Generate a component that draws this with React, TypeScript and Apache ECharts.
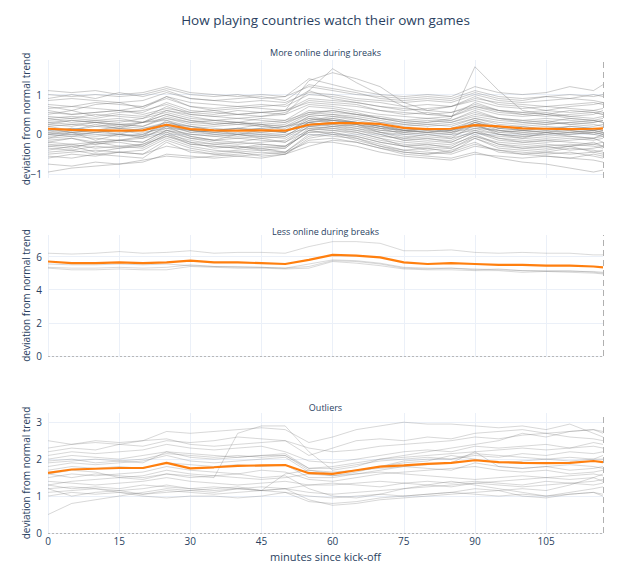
import React, { useEffect, useRef } from "react";
import * as echarts from "echarts";

const MINUTES = [0, 5, 10, 15, 20, 25, 30, 35, 40, 45, 50, 55, 60, 65, 70, 75, 80, 85, 90, 95, 100, 105, 110, 115, 117];
const X_TICKS = [0, 15, 30, 45, 60, 75, 90, 105];

const TITLE = "How playing countries watch their own games";
const PANEL_TITLES = ["More online during breaks", "Less online during breaks", "Outliers"];
const Y_NAME = "deviation from normal trend";
const X_NAME = "minutes since kick-off";

const TOP_TICKS = [-1, 0, 1];
const MID_TICKS = [0, 2, 4, 6];
const BOT_TICKS = [0, 1, 2, 3];

const TOP_LINES = [
  [-0.75, -0.8, -0.7, -0.75, -0.65, -0.55, -0.6, -0.55, -0.5, -0.45, -0.5, -0.3, -0.15, -0.2, -0.35, -0.5, -0.55, -0.6, -0.45, -0.6, -0.7, -0.75, -0.85, -0.95, -0.9],
  [-0.55, -0.6, -0.5, -0.55, -0.6, -0.2, -0.45, -0.5, -0.55, -0.6, -0.5, -0.1, 0.0, -0.15, -0.3, -0.45, -0.5, -0.4, -0.2, -0.45, -0.5, -0.55, -0.6, -0.5, -0.55],
  [-0.45, -0.4, -0.5, -0.45, -0.4, -0.1, -0.3, -0.4, -0.45, -0.4, -0.45, -0.05, 0.05, -0.1, -0.25, -0.4, -0.35, -0.45, -0.1, -0.35, -0.4, -0.45, -0.35, -0.4, -0.45],
  [-0.35, -0.4, -0.3, -0.35, -0.3, 0.0, -0.25, -0.3, -0.35, -0.3, -0.35, 0.1, 0.15, 0.05, -0.1, -0.3, -0.35, -0.3, 0.0, -0.25, -0.35, -0.3, -0.4, -0.35, -0.3],
  [-0.3, -0.25, -0.35, -0.3, -0.25, -0.05, -0.2, -0.25, -0.3, -0.35, -0.3, 0.05, 0.1, 0.0, -0.15, -0.25, -0.3, -0.25, -0.05, -0.2, -0.25, -0.3, -0.25, -0.3, -0.35],
  [-0.2, -0.25, -0.2, -0.15, -0.2, 0.1, -0.1, -0.2, -0.25, -0.2, -0.15, 0.2, 0.25, 0.15, 0.0, -0.15, -0.2, -0.15, 0.1, -0.1, -0.2, -0.15, -0.2, -0.25, -0.2],
  [-0.15, -0.1, -0.2, -0.15, -0.1, 0.05, -0.1, -0.15, -0.1, -0.15, -0.2, 0.1, 0.2, 0.1, -0.05, -0.1, -0.15, -0.1, 0.05, -0.05, -0.1, -0.15, -0.1, -0.15, -0.1],
  [-0.1, -0.05, -0.1, -0.15, -0.05, 0.15, 0.0, -0.05, -0.1, -0.05, -0.1, 0.25, 0.3, 0.2, 0.05, -0.05, -0.1, -0.05, 0.15, 0.0, -0.05, -0.1, -0.05, -0.1, -0.05],
  [-0.05, 0.0, -0.05, 0.0, -0.05, 0.1, 0.0, -0.05, 0.0, -0.05, 0.0, 0.15, 0.2, 0.15, 0.05, 0.0, -0.05, 0.0, 0.1, 0.0, -0.05, 0.0, 0.05, 0.0, -0.05],
  [0.0, 0.05, 0.0, -0.05, 0.0, 0.2, 0.05, 0.0, 0.05, 0.0, -0.05, 0.3, 0.35, 0.25, 0.1, 0.05, 0.0, 0.05, 0.2, 0.05, 0.0, 0.05, 0.0, 0.05, 0.0],
  [0.05, 0.0, 0.05, 0.1, 0.05, 0.15, 0.1, 0.05, 0.0, 0.05, 0.1, 0.2, 0.25, 0.2, 0.1, 0.05, 0.1, 0.05, 0.15, 0.1, 0.05, 0.0, 0.05, 0.1, 0.05],
  [0.1, 0.15, 0.1, 0.05, 0.1, 0.3, 0.15, 0.1, 0.15, 0.1, 0.05, 0.35, 0.4, 0.3, 0.2, 0.1, 0.15, 0.1, 0.3, 0.15, 0.1, 0.15, 0.1, 0.05, 0.1],
  [0.15, 0.1, 0.2, 0.15, 0.1, 0.25, 0.2, 0.15, 0.1, 0.15, 0.2, 0.3, 0.35, 0.3, 0.2, 0.15, 0.1, 0.15, 0.25, 0.2, 0.15, 0.2, 0.15, 0.1, 0.15],
  [0.2, 0.25, 0.2, 0.25, 0.2, 0.4, 0.25, 0.2, 0.25, 0.2, 0.15, 0.45, 0.5, 0.4, 0.3, 0.2, 0.25, 0.2, 0.4, 0.25, 0.2, 0.25, 0.3, 0.25, 0.2],
  [0.3, 0.25, 0.3, 0.35, 0.3, 0.5, 0.35, 0.3, 0.25, 0.3, 0.35, 0.55, 0.6, 0.5, 0.4, 0.3, 0.25, 0.3, 0.45, 0.35, 0.3, 0.25, 0.3, 0.35, 0.3],
  [0.35, 0.4, 0.35, 0.3, 0.4, 0.55, 0.4, 0.35, 0.4, 0.35, 0.3, 0.6, 0.55, 0.5, 0.45, 0.35, 0.4, 0.35, 0.55, 0.4, 0.35, 0.4, 0.35, 0.3, 0.35],
  [0.45, 0.4, 0.5, 0.45, 0.4, 0.7, 0.5, 0.45, 0.4, 0.45, 0.5, 0.75, 0.7, 0.6, 0.5, 0.45, 0.4, 0.45, 0.65, 0.5, 0.45, 0.5, 0.45, 0.4, 0.45],
  [0.55, 0.5, 0.55, 0.6, 0.55, 0.8, 0.6, 0.55, 0.5, 0.55, 0.6, 0.8, 0.75, 0.7, 0.6, 0.55, 0.5, 0.55, 0.75, 0.6, 0.55, 0.6, 0.55, 0.6, 0.55],
  [0.65, 0.7, 0.65, 0.6, 0.7, 0.9, 0.7, 0.65, 0.7, 0.65, 0.6, 0.9, 0.85, 0.8, 0.7, 0.6, 0.65, 0.7, 0.85, 0.7, 0.65, 0.7, 0.65, 0.6, 0.65],
  [0.75, 0.7, 0.8, 0.75, 0.7, 0.95, 0.8, 0.75, 0.7, 0.75, 0.7, 1.0, 0.95, 0.85, 0.8, 0.7, 0.75, 0.7, 0.9, 0.8, 0.75, 0.7, 0.75, 0.8, 0.75],
  [0.85, 0.9, 0.85, 0.8, 0.85, 1.05, 0.9, 0.85, 0.8, 0.85, 0.8, 1.05, 1.0, 0.9, 0.85, 0.8, 0.85, 0.8, 1.0, 0.85, 0.8, 0.85, 0.9, 0.85, 0.8],
  [1.0, 0.95, 1.0, 0.95, 1.0, 1.15, 1.0, 0.95, 1.0, 0.9, 0.95, 1.2, 1.1, 1.0, 0.95, 0.9, 0.95, 0.9, 1.1, 0.95, 0.9, 0.95, 1.0, 0.95, 1.0],
  [0.6, 0.5, 0.55, 0.6, 0.5, 0.65, 0.55, 0.5, 0.6, 0.55, 0.6, 1.35, 1.55, 1.4, 1.2, 0.8, 0.6, 0.55, 0.7, 0.6, 0.55, 0.5, 0.6, 0.55, 0.5],
  [0.3, 0.35, 0.3, 0.25, 0.3, 0.4, 0.3, 0.35, 0.3, 0.25, 0.3, 0.5, 0.6, 0.5, 0.4, 0.35, 0.3, 0.4, 1.7, 1.1, 0.6, 0.5, 0.4, 0.35, 0.3],
  [1.1, 1.05, 1.1, 1.0, 1.05, 1.2, 1.05, 1.0, 0.95, 1.0, 0.95, 1.4, 1.25, 1.1, 1.0, 0.95, 1.0, 0.95, 1.2, 1.05, 1.0, 1.05, 1.2, 1.1, 1.25],
  [-0.5, -0.45, -0.4, -0.45, -0.5, -0.15, -0.35, -0.45, -0.4, -0.35, -0.45, 0.0, -0.05, -0.1, -0.3, -0.4, -0.45, -0.5, -0.3, -0.4, -0.45, -0.5, -0.45, -0.55, -0.6],
  [0.0, -0.05, 0.05, 0.0, -0.05, 0.35, 0.1, 0.0, -0.05, 0.0, 0.05, 0.4, 0.35, 0.3, 0.15, 0.0, 0.05, 0.0, 0.3, 0.1, 0.0, -0.05, 0.0, 0.05, 0.0],
  [0.25, 0.2, 0.3, 0.25, 0.2, 0.45, 0.3, 0.25, 0.3, 0.25, 0.2, 0.5, 0.45, 0.4, 0.3, 0.25, 0.2, 0.25, 0.4, 0.3, 0.25, 0.3, 0.25, 0.2, 0.25],
  [-0.25, -0.3, -0.25, -0.2, -0.3, 0.0, -0.15, -0.25, -0.2, -0.25, -0.3, 0.15, 0.1, 0.05, -0.1, -0.2, -0.25, -0.2, 0.05, -0.15, -0.2, -0.25, -0.3, -0.25, -0.3],
  [0.1, 0.05, 0.1, 0.15, 0.1, 0.2, 0.1, 0.05, 0.1, 0.05, 0.1, 0.25, 0.3, 0.25, 0.15, 0.1, 0.05, 0.1, 0.2, 0.1, 0.05, 0.1, 0.05, 0.1, 0.05],
  [-0.95, -0.85, -0.8, -0.75, -0.7, -0.5, -0.55, -0.6, -0.55, -0.5, -0.45, -0.2, -0.2, -0.3, -0.45, -0.55, -0.6, -0.65, -0.5, -0.55, -0.6, -0.55, -0.6, -0.65, -0.7],
  [0.4, 0.45, 0.4, 0.5, 0.45, 0.6, 0.5, 0.45, 0.5, 0.55, 0.5, 1.1, 1.65, 1.3, 1.0, 0.7, 0.5, 0.45, 0.8, 0.6, 0.5, 0.45, 0.5, 0.55, 0.5],
  [0.2, 0.1, 0.25, 0.15, 0.3, 0.35, 0.2, 0.1, 0.15, 0.25, 0.1, 0.45, 0.35, 0.3, 0.2, 0.05, 0.15, 0.1, 0.35, 0.15, 0.2, 0.1, 0.2, 0.15, 0.1],
  [-0.1, 0.05, -0.15, 0.0, -0.1, 0.2, -0.05, -0.15, 0.0, -0.1, -0.05, 0.3, 0.2, 0.25, 0.05, -0.1, 0.0, -0.1, 0.25, 0.0, -0.1, 0.05, -0.05, -0.1, 0.0],
  [0.7, 0.6, 0.75, 0.8, 0.65, 0.95, 0.7, 0.6, 0.65, 0.7, 0.75, 1.1, 0.9, 0.8, 0.7, 0.65, 0.6, 0.7, 0.95, 0.75, 0.7, 0.6, 0.7, 0.75, 0.8],
  [-0.4, -0.3, -0.45, -0.35, -0.25, 0.05, -0.2, -0.35, -0.3, -0.4, -0.35, 0.1, 0.0, -0.05, -0.2, -0.3, -0.4, -0.35, -0.1, -0.3, -0.35, -0.4, -0.3, -0.45, -0.4],
  [0.05, 0.15, 0.1, 0.0, 0.15, 0.25, 0.05, 0.1, 0.0, 0.1, 0.05, 0.35, 0.45, 0.35, 0.25, 0.1, 0.05, 0.15, 0.35, 0.2, 0.1, 0.05, 0.15, 0.1, 0.15],
  [0.5, 0.6, 0.45, 0.55, 0.6, 0.75, 0.55, 0.6, 0.5, 0.45, 0.55, 0.85, 0.8, 0.75, 0.6, 0.5, 0.55, 0.45, 0.7, 0.55, 0.5, 0.55, 0.45, 0.5, 0.6],
  [-0.2, -0.1, -0.25, -0.15, -0.2, 0.1, -0.05, -0.15, -0.2, -0.1, -0.2, 0.2, 0.15, 0.1, 0.0, -0.15, -0.1, -0.2, 0.05, -0.1, -0.15, -0.2, -0.15, -0.1, -0.2],
  [0.9, 1.0, 0.9, 1.05, 0.95, 1.1, 0.9, 0.85, 0.9, 0.95, 0.85, 1.25, 1.15, 1.05, 0.9, 0.85, 0.9, 0.85, 1.05, 0.9, 0.85, 0.95, 0.9, 1.0, 0.95],
  [0.0, 0.1, 0.05, 0.1, 0.0, 0.25, 0.1, 0.05, 0.1, 0.15, 0.05, 0.3, 0.4, 0.3, 0.2, 0.1, 0.05, 0.1, 0.25, 0.05, 0.1, 0.05, 0.1, 0.0, 0.05],
  [-0.6, -0.5, -0.55, -0.45, -0.5, -0.3, -0.4, -0.5, -0.45, -0.55, -0.5, -0.15, -0.1, -0.2, -0.35, -0.45, -0.5, -0.45, -0.25, -0.4, -0.5, -0.45, -0.5, -0.45, -0.5],
  [0.25, 0.35, 0.3, 0.2, 0.3, 0.5, 0.35, 0.25, 0.3, 0.2, 0.25, 0.55, 0.5, 0.45, 0.35, 0.25, 0.3, 0.35, 0.6, 0.4, 0.3, 0.35, 0.25, 0.3, 0.35],
  [0.4, 0.3, 0.35, 0.4, 0.3, 0.6, 0.45, 0.35, 0.3, 0.4, 0.35, 0.7, 0.65, 0.55, 0.4, 0.3, 0.35, 0.3, 0.5, 0.4, 0.35, 0.3, 0.4, 0.35, 0.4],
  [-0.3, -0.35, -0.2, -0.3, -0.35, -0.05, -0.25, -0.3, -0.35, -0.25, -0.3, 0.05, 0.05, -0.05, -0.2, -0.3, -0.25, -0.35, -0.05, -0.25, -0.3, -0.35, -0.3, -0.2, -0.3],
  [0.15, 0.05, 0.1, 0.2, 0.15, 0.3, 0.2, 0.1, 0.15, 0.1, 0.2, 0.4, 0.3, 0.25, 0.15, 0.1, 0.15, 0.05, 0.3, 0.15, 0.1, 0.15, 0.2, 0.15, 0.1],
];
const TOP_MEAN = [0.14, 0.11, 0.1, 0.09, 0.1, 0.24, 0.13, 0.1, 0.09, 0.1, 0.09, 0.24, 0.28, 0.28, 0.26, 0.16, 0.13, 0.14, 0.23, 0.2, 0.15, 0.14, 0.13, 0.14, 0.15];

const MID_LINES = [
  [6.2, 6.15, 6.2, 6.3, 6.2, 6.25, 6.35, 6.2, 6.25, 6.25, 6.2, 6.6, 6.9, 6.9, 6.8, 6.35, 6.35, 6.4, 6.25, 6.2, 6.25, 6.2, 6.2, 6.1, 6.1],
  [5.55, 5.5, 5.5, 5.55, 5.5, 5.55, 5.45, 5.4, 5.4, 5.35, 5.3, 5.55, 5.8, 5.75, 5.6, 5.35, 5.3, 5.3, 5.25, 5.2, 5.15, 5.15, 5.15, 5.05, 5.0],
  [5.35, 5.3, 5.3, 5.35, 5.3, 5.35, 5.5, 5.4, 5.35, 5.35, 5.3, 5.4, 5.75, 5.7, 5.55, 5.3, 5.25, 5.3, 5.2, 5.25, 5.15, 5.1, 5.1, 5.1, 5.05],
  [5.3, 5.2, 5.2, 5.25, 5.2, 5.2, 5.4, 5.35, 5.3, 5.3, 5.25, 5.3, 5.7, 5.6, 5.45, 5.25, 5.2, 5.2, 5.15, 5.15, 5.05, 5.1, 5.05, 5.0, 4.95],
];
const MID_MEAN = [5.7, 5.6, 5.6, 5.65, 5.6, 5.65, 5.75, 5.65, 5.65, 5.6, 5.55, 5.8, 6.1, 6.05, 5.95, 5.65, 5.55, 5.6, 5.55, 5.5, 5.5, 5.45, 5.45, 5.4, 5.35];

const BOT_LINES = [
  [2.5, 2.4, 2.5, 2.45, 2.5, 2.75, 2.7, 2.75, 2.8, 2.85, 2.8, 2.45, 2.6, 2.8, 2.9, 3.0, 2.95, 2.95, 2.9, 2.85, 2.9, 2.8, 2.95, 2.7, 2.6],
  [1.6, 1.5, 1.6, 1.55, 1.5, 1.6, 1.55, 1.5, 2.7, 2.9, 2.9, 2.2, 1.7, 1.8, 2.0, 2.1, 2.2, 2.3, 2.4, 2.5, 2.7, 2.6, 2.75, 2.8, 2.7],
  [2.2, 2.3, 2.25, 2.4, 2.35, 2.5, 2.45, 2.5, 2.6, 2.55, 2.5, 2.3, 2.2, 2.25, 2.35, 2.4, 2.45, 2.5, 2.6, 2.55, 2.65, 2.7, 2.6, 2.55, 2.5],
  [2.1, 2.2, 2.15, 2.2, 2.25, 2.4, 2.3, 2.25, 2.3, 2.35, 2.2, 1.95, 1.9, 2.0, 2.1, 2.2, 2.25, 2.2, 2.35, 2.3, 2.35, 2.4, 2.3, 2.45, 2.4],
  [2.0, 2.1, 2.05, 2.0, 2.1, 2.2, 2.15, 2.1, 2.05, 2.1, 2.15, 1.75, 1.8, 1.9, 2.0, 2.05, 2.1, 2.15, 2.2, 2.25, 2.3, 2.25, 2.3, 2.35, 2.3],
  [1.9, 1.95, 2.0, 1.95, 1.9, 2.2, 2.05, 2.0, 2.05, 2.1, 2.1, 1.7, 1.6, 1.7, 1.8, 1.95, 2.0, 2.0, 2.1, 2.05, 2.15, 2.1, 2.2, 2.15, 2.2],
  [1.8, 1.9, 1.85, 1.9, 1.95, 2.1, 1.95, 1.9, 1.95, 2.0, 2.05, 1.65, 1.55, 1.65, 1.8, 1.9, 1.95, 2.1, 2.0, 1.9, 1.95, 2.0, 2.05, 2.0, 2.1],
  [1.7, 1.8, 1.75, 1.8, 1.75, 1.9, 1.85, 1.8, 1.85, 1.8, 1.85, 1.5, 1.5, 1.6, 1.7, 1.8, 1.85, 1.9, 2.2, 1.8, 1.75, 1.8, 1.85, 1.8, 1.75],
  [1.5, 1.6, 1.55, 1.6, 1.65, 1.8, 1.7, 1.65, 1.6, 1.7, 1.65, 1.45, 1.4, 1.5, 1.6, 1.65, 1.7, 1.75, 1.8, 1.7, 1.65, 1.7, 1.6, 1.65, 1.7],
  [1.3, 1.4, 1.45, 1.5, 1.45, 1.6, 1.5, 1.55, 1.5, 1.45, 1.5, 1.6, 1.55, 1.6, 1.65, 1.6, 1.55, 1.5, 1.45, 1.5, 1.55, 1.5, 1.55, 1.6, 1.55],
  [1.4, 1.35, 1.3, 1.35, 1.4, 1.5, 1.4, 1.35, 1.3, 1.35, 1.4, 1.3, 1.3, 1.35, 1.4, 1.35, 1.4, 1.35, 1.4, 1.35, 1.3, 1.4, 1.35, 1.3, 1.35],
  [1.2, 1.25, 1.2, 1.15, 1.2, 1.3, 1.2, 1.25, 1.2, 1.15, 1.2, 1.1, 1.05, 1.1, 1.15, 1.2, 1.25, 1.3, 1.35, 1.3, 1.25, 1.3, 1.35, 1.4, 1.45],
  [1.1, 1.15, 1.2, 1.1, 1.05, 1.15, 1.1, 1.05, 1.1, 1.15, 1.1, 1.0, 0.95, 1.0, 1.05, 1.0, 1.05, 1.1, 1.05, 1.0, 1.05, 1.0, 1.05, 1.1, 1.0],
  [1.0, 1.1, 1.05, 1.1, 1.0, 0.95, 1.0, 1.0, 0.95, 1.0, 1.1, 0.85, 0.8, 0.85, 0.95, 1.0, 1.05, 1.1, 1.2, 1.15, 1.0, 0.95, 1.05, 1.1, 1.05],
  [0.5, 0.8, 0.9, 1.0, 1.1, 1.2, 1.15, 1.1, 1.2, 1.15, 1.6, 1.7, 1.65, 1.7, 1.75, 1.8, 1.75, 1.7, 1.9, 1.8, 1.75, 1.8, 1.7, 1.75, 1.8],
  [1.6, 1.7, 1.65, 1.5, 1.55, 1.7, 1.6, 1.55, 1.6, 1.5, 1.55, 1.2, 1.0, 0.95, 1.05, 1.2, 1.3, 1.4, 1.3, 1.2, 1.1, 1.0, 1.1, 1.2, 1.25],
  [2.3, 2.4, 2.45, 2.4, 2.5, 2.55, 2.4, 2.35, 2.4, 2.45, 2.5, 2.1, 2.3, 2.5, 2.55, 2.5, 2.6, 2.55, 2.7, 2.75, 2.8, 2.7, 2.75, 2.8, 2.75],
  [1.3, 1.2, 1.25, 1.2, 1.3, 1.25, 1.2, 1.15, 1.2, 1.25, 1.2, 0.9, 0.75, 0.8, 0.9, 0.95, 1.0, 1.05, 1.1, 1.15, 1.2, 1.15, 1.3, 1.5, 1.6],
  [1.95, 2.0, 1.9, 1.95, 2.0, 2.15, 2.1, 2.05, 2.1, 2.05, 2.1, 1.75, 1.75, 1.85, 1.95, 2.0, 2.05, 2.0, 2.15, 2.1, 2.05, 2.0, 1.95, 2.0, 2.0],
  [1.2, 1.0, 1.1, 1.15, 1.05, 1.1, 1.15, 1.2, 1.25, 1.15, 1.2, 1.3, 1.35, 1.3, 1.25, 1.35, 1.3, 1.25, 1.35, 1.4, 1.45, 1.5, 1.45, 1.5, 1.4],
];
const BOT_MEAN = [1.63, 1.72, 1.74, 1.76, 1.76, 1.9, 1.75, 1.78, 1.82, 1.83, 1.84, 1.62, 1.6, 1.7, 1.8, 1.83, 1.87, 1.9, 1.97, 1.92, 1.9, 1.89, 1.9, 1.95, 1.92];

const FONT = '"Open Sans", verdana, arial, sans-serif';
const TEXT = "#2a3f5f";
const GRID_COLOR = "#ebf0f8";
const X_MAX = 117;

function pairs(vals: number[]) {
  return vals.map((v, i) => [MINUTES[i], v]);
}

export default function App() {
  const ref = useRef<HTMLDivElement>(null);
  useEffect(() => {
    document.body.style.margin = "0";
    const chart = echarts.init(ref.current!, null, { renderer: "svg" });

    const grids = [
      { left: 48, width: 555, top: 60, height: 118 },
      { left: 48, width: 555, top: 235, height: 121 },
      { left: 48, width: 555, top: 413, height: 120 },
    ];
    const yRanges = [
      { min: -1.1, max: 1.87, ticks: TOP_TICKS },
      { min: 0, max: 7.3, ticks: MID_TICKS },
      { min: 0, max: 3.25, ticks: BOT_TICKS },
    ];

    const xAxis = grids.map((_, i) => ({
      type: "value",
      gridIndex: i,
      min: 0,
      max: X_MAX,
      axisLine: { show: false },
      axisTick: { show: false, customValues: X_TICKS },
      splitLine: { show: true, lineStyle: { color: GRID_COLOR, width: 1 } },
      axisLabel: {
        show: i === 2,
        customValues: X_TICKS,
        color: TEXT,
        fontSize: 10,
        fontFamily: FONT,
        margin: 3,
      },
      name: i === 2 ? X_NAME : "",
      nameLocation: "middle",
      nameMoveOverlap: false,
      nameGap: 18,
      nameTextStyle: { color: TEXT, fontSize: 11, fontFamily: FONT },
    }));

    const yAxis = yRanges.map((r, i) => ({
      type: "value",
      gridIndex: i,
      min: r.min,
      max: r.max,
      axisLine: { show: false },
      axisTick: { show: false, customValues: r.ticks },
      splitLine: { show: true, lineStyle: { color: GRID_COLOR, width: 1 } },
      axisLabel: {
        customValues: r.ticks,
        color: TEXT,
        fontSize: 10,
        fontFamily: FONT,
        margin: 6,
        formatter: (v: number) => (v < 0 ? "\u2212" + Math.abs(v) : String(v)),
      },
      name: Y_NAME,
      nameLocation: "middle",
      nameMoveOverlap: false,
      nameGap: 17,
      nameTextStyle: { color: TEXT, fontSize: 10, fontFamily: FONT },
    }));

    const series: any[] = [];
    const groups = [
      { lines: TOP_LINES, mean: TOP_MEAN, alpha: 0.42 },
      { lines: MID_LINES, mean: MID_MEAN, alpha: 0.3 },
      { lines: BOT_LINES, mean: BOT_MEAN, alpha: 0.32 },
    ];
    groups.forEach((g, i) => {
      g.lines.forEach((line) => {
        series.push({
          type: "line",
          xAxisIndex: i,
          yAxisIndex: i,
          data: pairs(line),
          showSymbol: false,
          silent: true,
          z: 2,
          lineStyle: { color: `rgba(120,120,120,${g.alpha})`, width: 0.9 },
        });
      });
      const markData: any[] = [
        { xAxis: X_MAX, lineStyle: { type: [6, 4], color: "#b0b0b0", width: 1 } },
      ];
      if (i > 0) {
        markData.push({ yAxis: 0, lineStyle: { type: [2, 2], color: "#b8b8b8", width: 1 } });
      }
      series.push({
        type: "line",
        xAxisIndex: i,
        yAxisIndex: i,
        data: pairs(g.mean),
        showSymbol: false,
        silent: true,
        z: 4,
        lineStyle: { color: "#ff7f0e", width: 2.2 },
        markLine: {
          silent: true,
          symbol: ["none", "none"],
          label: { show: false },
          data: markData,
        },
      });
    });

    const centerX = 48 + 555 / 2;
    const option: any = {
      animation: false,
      backgroundColor: "#ffffff",
      textStyle: { fontFamily: FONT },
      grid: grids,
      xAxis,
      yAxis,
      series,
      graphic: [
        {
          type: "text",
          x: centerX,
          y: 20,
          style: { text: TITLE, fill: TEXT, fontSize: 13.5, fontFamily: FONT, textAlign: "center", textVerticalAlign: "middle" },
        },
        ...PANEL_TITLES.map((t, i) => ({
          type: "text",
          x: centerX,
          y: [52, 231, 407][i],
          style: { text: t, fill: TEXT, fontSize: 9, fontFamily: FONT, textAlign: "center", textVerticalAlign: "middle" },
        })),
      ],
    };
    chart.setOption(option);
    return () => chart.dispose();
  }, []);
  return <div ref={ref} style={{ width: 624, height: 570 }} />;
}
